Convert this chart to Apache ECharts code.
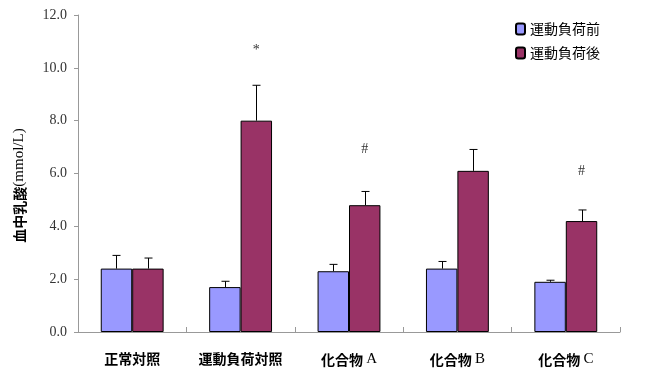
<!DOCTYPE html>
<html><head><meta charset="utf-8">
<script src="https://cdn.jsdelivr.net/npm/echarts@6/dist/echarts.min.js"></script>
<style>html,body{margin:0;padding:0;background:#fff}#c{width:645px;height:375px}</style>
</head><body><div id="c"></div>
<script>
var categories = ['正常対照', '運動負荷対照', '化合物 A', '化合物 B', '化合物 C'];
var seriesNames = ['運動負荷前', '運動負荷後'];
var beforeValues = [2.4, 1.7, 2.3, 2.4, 1.9];
var afterValues = [2.4, 8.0, 4.8, 6.1, 4.2];
var beforeErrTop = [2.9, 1.92, 2.56, 2.67, 1.96];
var afterErrTop = [2.8, 9.34, 5.32, 6.91, 4.62];
var markTexts = ['', '*', '#', '', '#'];
var markValues = [null, 10.67, 6.93, null, 6.1];
var yTicks = [0, 2, 4, 6, 8, 10, 12];
var yName = ['血中乳酸', '(mmol/L)'];

var serif = "'Times New Roman','Liberation Serif','Noto Sans CJK JP'";
var cjk = "'Noto Sans CJK JP','Liberation Sans'";
var gapPct = 0.42;
var halfShare = (1 - gapPct) / 4;
var richStyles = {
  c: { fontFamily: cjk, fontSize: 14, fontWeight: 'bold', color: '#000' },
  l: { fontFamily: serif, fontSize: 15, color: '#000' }
};

function errData(vals, tops) {
  return vals.map(function (v, i) { return [i, v, tops[i]]; });
}
function errRender(side) {
  return function (params, api) {
    var i = api.value(0);
    var band = api.size([1, 0])[0];
    var base = api.coord([i, api.value(1)]);
    var top = api.coord([i, api.value(2)]);
    var x = Math.round(base[0] + side * halfShare * band) + 0.5;
    var capHalf = 4;
    return {
      type: 'group',
      children: [
        { type: 'line', shape: { x1: x, y1: base[1], x2: x, y2: top[1] }, style: { stroke: '#000', lineWidth: 1 } },
        { type: 'line', shape: { x1: x - capHalf, y1: top[1], x2: x + capHalf, y2: top[1] }, style: { stroke: '#000', lineWidth: 1 } }
      ]
    };
  };
}
var markData = [];
markValues.forEach(function (v, i) { if (v != null) markData.push([i, v, markTexts[i]]); });

var chart = echarts.init(document.getElementById('c'));
chart.setOption({
  animation: false,
  backgroundColor: '#fff',
  grid: { left: 78, right: 25, top: 15, bottom: 43, containLabel: false },
  legend: {
    orient: 'vertical', right: 40, top: 17, itemGap: 10,
    itemWidth: 9, itemHeight: 11,
    textStyle: { fontFamily: cjk, fontSize: 14, color: '#000' },
    data: seriesNames
  },
  xAxis: {
    type: 'category', data: categories,
    axisLine: { lineStyle: { color: '#999', width: 1 } },
    axisTick: { show: true, inside: true, length: 5, interval: 0, lineStyle: { color: '#999' } },
    axisLabel: {
      interval: 0, margin: 20,
      formatter: function (v) {
        var parts = v.split(' ');
        return parts.length > 1 ? '{c|' + parts[0] + '} {l|' + parts[1] + '}' : '{c|' + v + '}';
      },
      rich: richStyles
    }
  },
  yAxis: {
    type: 'value', min: 0, max: 12, interval: 2,
    name: '{c|' + yName[0] + '}{l|' + yName[1] + '}', nameLocation: 'middle', nameGap: 51, nameRotate: 90,
    nameTextStyle: { rich: richStyles, padding: [0, 24, 0, 0] },
    axisLine: { show: true, lineStyle: { color: '#999', width: 1 } },
    axisTick: { show: true, length: 4, lineStyle: { color: '#999' } },
    splitLine: { show: false },
    axisLabel: { fontFamily: serif, fontSize: 14, color: '#333', margin: 11,
      formatter: function (v) { return yTicks.indexOf(v) >= 0 ? v.toFixed(1) : ''; } }
  },
  series: [
    { name: seriesNames[0], type: 'bar', data: beforeValues, barGap: '0%', barCategoryGap: (gapPct * 100) + '%',
      itemStyle: { color: '#9999FF', borderColor: '#000', borderWidth: 1 } },
    { name: seriesNames[1], type: 'bar', data: afterValues, barGap: '0%', barCategoryGap: (gapPct * 100) + '%',
      itemStyle: { color: '#993366', borderColor: '#000', borderWidth: 1 } },
    { type: 'custom', data: errData(beforeValues, beforeErrTop), renderItem: errRender(-1), z: 5, silent: true },
    { type: 'custom', data: errData(afterValues, afterErrTop), renderItem: errRender(1), z: 5, silent: true },
    { type: 'custom', data: markData, z: 6, silent: true,
      renderItem: function (params, api) {
        var i = api.value(0);
        var band = api.size([1, 0])[0];
        var p = api.coord([i, api.value(1)]);
        return { type: 'text', x: p[0] + halfShare * band, y: p[1],
          style: { text: markTexts[i], fill: '#333', font: '14px ' + serif, align: 'center', verticalAlign: 'middle' } };
      } }
  ]
});
</script></body></html>
